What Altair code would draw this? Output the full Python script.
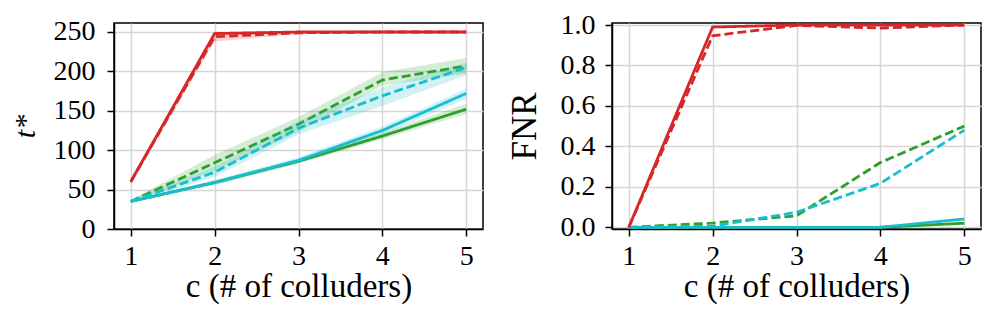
import altair as alt
import pandas as pd

c_vals = [1, 2, 3, 4, 5]

# Left panel: t*
t_red_solid = [60, 248, 250, 250, 250]
t_red_dashed = [60, 244, 249, 250, 250]
t_green_dashed = [35, 84, 133, 189, 207]
t_cyan_dashed = [35, 72, 128, 169, 205]
t_cyan_solid = [35, 59, 87, 125, 172]
t_green_solid = [35, 59, 86, 118, 152]

t_red_solid_lo = [57, 246, 250, 250, 250]
t_red_solid_hi = [63, 250, 250, 250, 250]
t_red_dashed_lo = [57, 238, 247, 249, 250]
t_red_dashed_hi = [63, 250, 251, 251, 250]
t_green_dashed_lo = [33, 74, 123, 182, 197]
t_green_dashed_hi = [37, 94, 142, 199, 217]
t_cyan_dashed_lo = [33, 66, 120, 156, 195]
t_cyan_dashed_hi = [37, 79, 137, 180, 211]
t_cyan_solid_lo = [34, 56, 84, 120, 165]
t_cyan_solid_hi = [36, 62, 91, 130, 178]
t_green_solid_lo = [34, 56, 83, 114, 146]
t_green_solid_hi = [36, 62, 89, 122, 159]

# Right panel: FNR
f_red_solid = [0.0, 0.99, 1.0, 1.0, 1.0]
f_red_dashed = [0.0, 0.947, 0.998, 0.985, 1.0]
f_green_dashed = [0.0, 0.021, 0.057, 0.32, 0.50]
f_cyan_dashed = [0.0, 0.005, 0.074, 0.217, 0.48]
f_cyan_solid = [0.0, 0.0, 0.0, 0.0, 0.041]
f_green_solid = [0.0, 0.0, 0.0, 0.0, 0.02]

RED, GREEN, CYAN = "#d62728", "#2ca02c", "#17becf"
FONT = "Liberation Serif"

# series: (name, color, dashed, t values, t lo, t hi, fnr values)
series = [
    ("green solid", GREEN, False, t_green_solid, t_green_solid_lo, t_green_solid_hi, f_green_solid),
    ("green dashed", GREEN, True, t_green_dashed, t_green_dashed_lo, t_green_dashed_hi, f_green_dashed),
    ("cyan solid", CYAN, False, t_cyan_solid, t_cyan_solid_lo, t_cyan_solid_hi, f_cyan_solid),
    ("cyan dashed", CYAN, True, t_cyan_dashed, t_cyan_dashed_lo, t_cyan_dashed_hi, f_cyan_dashed),
    ("red dashed", RED, True, t_red_dashed, t_red_dashed_lo, t_red_dashed_hi, f_red_dashed),
    ("red solid", RED, False, t_red_solid, t_red_solid_lo, t_red_solid_hi, f_red_solid),
]

x_enc = alt.X("c:Q", scale=alt.Scale(domain=[0.8, 5.2], nice=False, zero=False),
              axis=alt.Axis(values=c_vals, format="d", title="c (# of colluders)"))


def panel(kind):
    layers = []
    for name, color, dashed, tv, tlo, thi, fv in series:
        if kind == "t":
            df = pd.DataFrame({"c": c_vals, "v": tv, "lo": tlo, "hi": thi})
            yscale = alt.Scale(domain=[0, 261.4], nice=False)
            yaxis = alt.Axis(values=[0, 50, 100, 150, 200, 250], title="t*",
                             titleFontStyle="italic", titleFontSize=30,
                             titlePadding=13, labelPadding=12)
        else:
            df = pd.DataFrame({"c": c_vals, "v": fv})
            yscale = alt.Scale(domain=[-0.0085, 1.01], nice=False, zero=False)
            yaxis = alt.Axis(values=[0, 0.2, 0.4, 0.6, 0.8, 1.0], format=".1f",
                             title="FNR", titleFontSize=35, titlePadding=18,
                             labelPadding=10)
        base = alt.Chart(df)
        if kind == "t":
            layers.append(base.mark_area(color=color, opacity=0.2).encode(
                x=x_enc, y=alt.Y("lo:Q", scale=yscale, axis=yaxis), y2="hi:Q"))
        layers.append(base.mark_line(color=color, strokeWidth=2.8,
                                     strokeDash=[9, 4] if dashed else [1, 0]).encode(
            x=x_enc, y=alt.Y("v:Q", scale=yscale, axis=yaxis)))
    return alt.layer(*layers).properties(width=369, height=206)


chart = alt.hconcat(panel("t"), panel("f"), spacing=22).properties(
    padding={"left": 1, "top": 2, "right": 0, "bottom": 0}
).configure_view(stroke="black", strokeWidth=1.5).configure_axis(
    labelFont=FONT, labelFontSize=28, labelColor="black",
    titleFont=FONT, titleFontSize=34, titleFontWeight="normal", titleColor="black",
    tickColor="black", tickSize=7, tickWidth=1.5, domainColor="black", domainWidth=1.5,
    gridColor="#d6d6d6", gridWidth=1.5, labelPadding=10,
).configure_axisX(labelPadding=6, titlePadding=0, titleFontSize=33)

chart.save("out.html", embed_options={"renderer": "svg", "actions": False})
